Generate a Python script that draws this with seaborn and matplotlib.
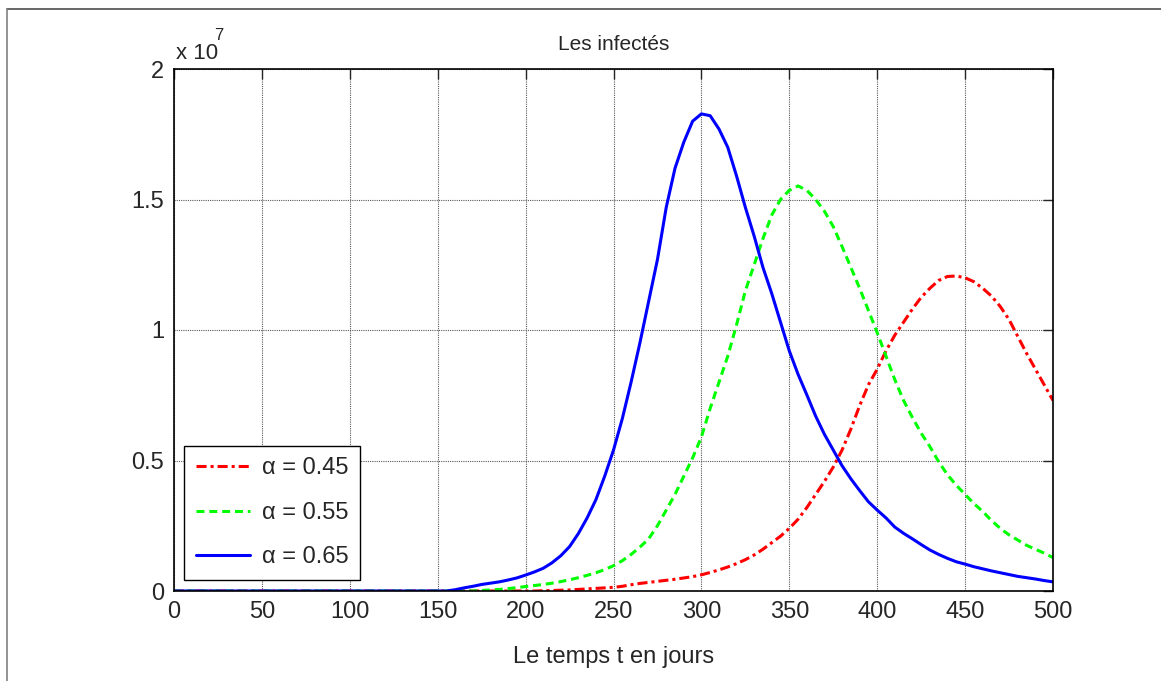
"""
Courbes des infectés pour trois valeurs de alpha (style figure MATLAB).
"""

import numpy as np
import pandas as pd
import matplotlib
matplotlib.use("Agg")
import matplotlib.pyplot as plt
from matplotlib.lines import Line2D
import seaborn as sns

# jours, tous les 5 jours de 0 a 500
jours = list(range(0, 505, 5))

# infectés, en unités de 1e7
inf_045 = [0.0] * 42 + [
    0.001, 0.002, 0.003, 0.004, 0.006, 0.008, 0.010, 0.012, 0.014, 0.018,
    0.024, 0.029, 0.033, 0.037, 0.041, 0.045, 0.050, 0.055, 0.062, 0.071,
    0.081, 0.092, 0.105, 0.120, 0.138, 0.160, 0.185, 0.210, 0.240, 0.275,
    0.320, 0.370, 0.420, 0.475, 0.540, 0.620, 0.710, 0.790, 0.850, 0.920,
    0.980, 1.030, 1.080, 1.125, 1.160, 1.190, 1.205, 1.207, 1.200, 1.185,
    1.160, 1.130, 1.090, 1.040, 0.975, 0.910, 0.850, 0.790, 0.730,
]
inf_055 = [0.0] * 35 + [
    0.002, 0.004, 0.006, 0.009, 0.013, 0.017, 0.021, 0.025, 0.030, 0.036,
    0.043, 0.051, 0.060, 0.070, 0.082, 0.097, 0.116, 0.140, 0.168, 0.200,
    0.250, 0.310, 0.370, 0.440, 0.510, 0.590, 0.700, 0.800, 0.900, 1.020,
    1.150, 1.250, 1.350, 1.440, 1.500, 1.535, 1.552, 1.535, 1.500, 1.455,
    1.396, 1.320, 1.240, 1.160, 1.075, 0.990, 0.900, 0.810, 0.730, 0.665,
    0.605, 0.553, 0.495, 0.445, 0.405, 0.370, 0.335, 0.305, 0.270, 0.240,
    0.215, 0.195, 0.175, 0.160, 0.145, 0.128,
]
inf_065 = [0.0] * 32 + [
    0.005, 0.012, 0.018, 0.025, 0.030, 0.035, 0.042, 0.050, 0.061, 0.073,
    0.087, 0.108, 0.135, 0.170, 0.220, 0.280, 0.350, 0.440, 0.540, 0.660,
    0.800, 0.950, 1.110, 1.270, 1.470, 1.620, 1.720, 1.800, 1.828, 1.821,
    1.770, 1.700, 1.590, 1.470, 1.360, 1.240, 1.140, 1.030, 0.920, 0.830,
    0.751, 0.670, 0.600, 0.540, 0.480, 0.430, 0.385, 0.342, 0.310, 0.280,
    0.245, 0.221, 0.200, 0.178, 0.157, 0.140, 0.125, 0.112, 0.103, 0.093,
    0.085, 0.077, 0.070, 0.063, 0.056, 0.051, 0.046, 0.040, 0.035,
]

labels = ["\u03b1 = 0.45", "\u03b1 = 0.55", "\u03b1 = 0.65"]
couleurs = ["#ff0000", "#00ff00", "#0000ff"]
x_ticks = [0, 50, 100, 150, 200, 250, 300, 350, 400, 450, 500]
y_ticks = [0, 0.5, 1, 1.5, 2]
y_tick_labels = ["0", "0.5", "1", "1.5", "2"]

df = pd.DataFrame({
    "jour": jours * 3,
    "I": inf_045 + inf_055 + inf_065,
    "alpha": [labels[0]] * len(jours) + [labels[1]] * len(jours) + [labels[2]] * len(jours),
})

sns.set_style("white")
plt.rcParams["font.family"] = ["Liberation Sans", "DejaVu Sans"]

fig = plt.figure(figsize=(11.61, 6.81), dpi=100)
ax = fig.add_axes([174 / 1161, 1 - 591 / 681, 879 / 1161, 522 / 681])

styles = {labels[0]: (3.3, 1.3, 1.0, 1.3), labels[1]: (2.6, 1.6), labels[2]: ""}
sns.lineplot(data=df, x="jour", y="I", hue="alpha", style="alpha",
             palette=couleurs, dashes=styles, linewidth=2.2, legend=False, ax=ax)

ax.set_xlim(0, 500)
ax.set_ylim(0, 2)
ax.set_xticks(x_ticks)
ax.set_xticklabels([str(t) for t in x_ticks])
ax.set_yticks(y_ticks)
ax.set_yticklabels(y_tick_labels)
ax.tick_params(direction="in", length=7, width=1, labelsize=17, top=True, right=True, pad=7)
ax.grid(True, color="0.35", linestyle=(0, (1, 1)), linewidth=0.8)
for sp in ax.spines.values():
    sp.set_linewidth(1.2)
    sp.set_color("black")

ax.set_xlabel("Le temps t en jours", fontsize=17, labelpad=17)
ax.set_ylabel("")
ax.set_title("Les infectés", fontsize=15, pad=14)

# facteur d'echelle a la MATLAB
fig.text(176 / 1161, 1 - 59 / 681, "x 10", fontsize=16, ha="left", va="baseline")
fig.text(214 / 1161, 1 - 40 / 681, "7", fontsize=12, ha="left", va="baseline")

handles = [
    Line2D([], [], color=couleurs[0], linewidth=2.2, dashes=styles[labels[0]]),
    Line2D([], [], color=couleurs[1], linewidth=2.2, dashes=styles[labels[1]]),
    Line2D([], [], color=couleurs[2], linewidth=2.2),
]
leg = ax.legend(handles, labels, loc="lower left",
                bbox_to_anchor=((184 - 174) / 879, (591 - 580) / 522),
                borderaxespad=0, fontsize=17, handlelength=2.3, handletextpad=0.5,
                labelspacing=0.95, borderpad=0.5, fancybox=False, framealpha=1)
leg.get_frame().set_edgecolor("black")
leg.get_frame().set_linewidth(1.0)

# cadre de la figure
fig.add_artist(Line2D([7 / 1161, 1], [1 - 9 / 681, 1 - 9 / 681], color="0.3", linewidth=1.2))
fig.add_artist(Line2D([7 / 1161, 7 / 1161], [0, 1 - 9 / 681], color="0.5", linewidth=1.2))

fig.savefig("out.png", dpi=100)
